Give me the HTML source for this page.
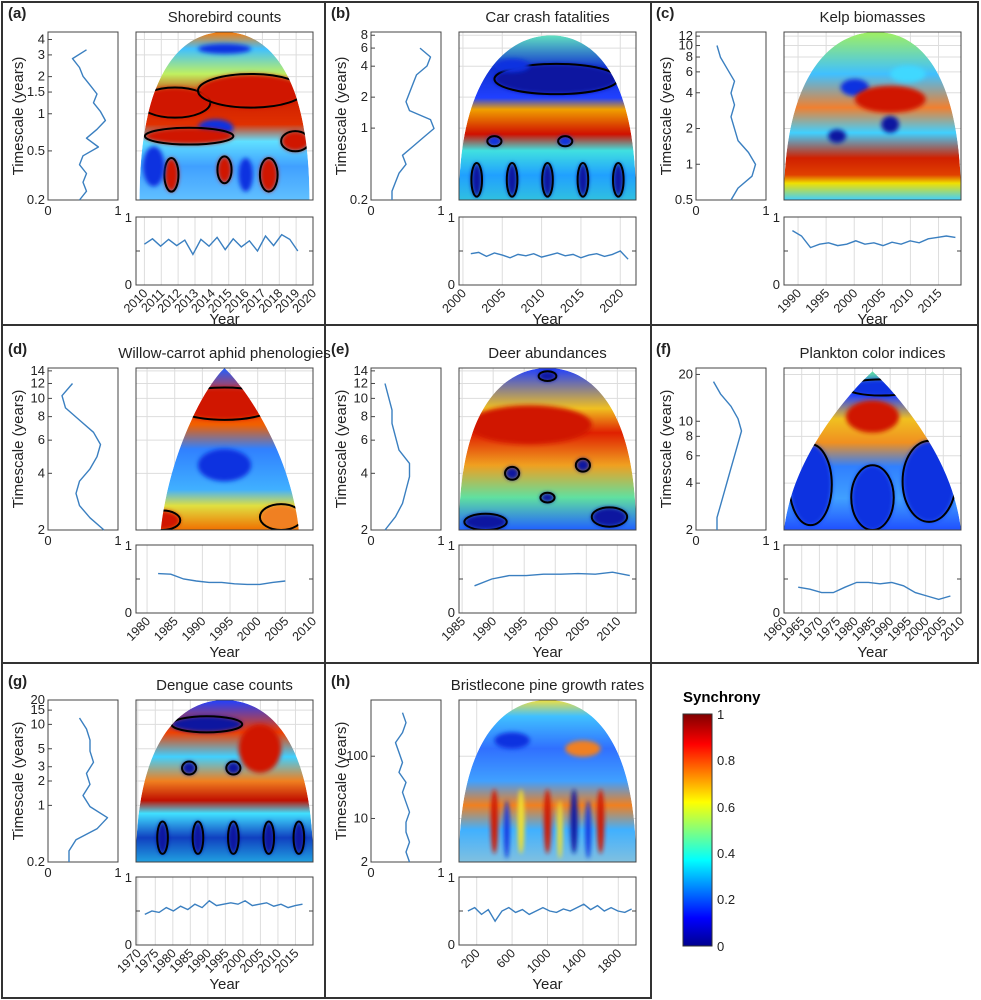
<!DOCTYPE html>
<html><head><meta charset="utf-8"><style>
body{margin:0;background:#fff;}
svg{display:block;font-family:"Liberation Sans",sans-serif;}
</style></head><body>
<svg id="fig" width="981" height="1000" viewBox="0 0 981 1000">
<defs>
<linearGradient id="jet" x1="0" y1="1" x2="0" y2="0">
<stop offset="0" stop-color="#00008f"/><stop offset="0.12" stop-color="#0000ff"/><stop offset="0.37" stop-color="#00ffff"/><stop offset="0.62" stop-color="#ffff00"/><stop offset="0.87" stop-color="#ff0000"/><stop offset="1" stop-color="#800000"/>
</linearGradient>
</defs>
<g id="frame" stroke="#333" stroke-width="2" fill="none">
<path d="M2,2 H978 V663 H651 V998 H2 Z"/><path d="M2,325 H978 M2,663 H651 M325,2 V998 M651,2 V663"/>
</g>
<g id="root"></g>
<g>
<text x="683" y="702" font-size="15" font-weight="bold">Synchrony</text>
<rect x="683" y="714" width="29" height="232" fill="url(#jet)" stroke="#333"/>
<g font-size="13" fill="#222">
<text x="717" y="719">1</text><text x="717" y="765">0.8</text><text x="717" y="812">0.6</text><text x="717" y="858">0.4</text><text x="717" y="904">0.2</text><text x="717" y="951">0</text>
</g></g>
</svg>
<script>
// ---- data arrays ----
const titles=["Shorebird counts","Car crash fatalities","Kelp biomasses","Willow-carrot aphid phenologies","Deer abundances","Plankton color indices","Dengue case counts","Bristlecone pine growth rates"];
const letters=["(a)","(b)","(c)","(d)","(e)","(f)","(g)","(h)"];
const yRange=[[0.2,4.6],[0.2,8.6],[0.5,13],[2,14.5],[2,14.5],[2,22],[0.2,20],[2,800]];
const yTicks=[[0.2,0.5,1,1.5,2,3,4],[0.2,1,2,4,6,8],[0.5,1,2,4,6,8,10,12],[2,4,6,8,10,12,14],[2,4,6,8,10,12,14],[2,4,6,8,10,20],[0.2,1,2,3,5,10,15,20],[2,10,100]];
const profTop=[3.3,6,10,12,12,18,12,500];
const profA=[0.45,0.55,0.5,0.55,0.45,0.5,0.72,0.55,0.7,0.82,0.75,0.65,0.7,0.6,0.5,0.45,0.35,0.55];
const profB=[0.3,0.3,0.35,0.4,0.5,0.45,0.6,0.75,0.9,0.85,0.55,0.5,0.55,0.6,0.65,0.8,0.85,0.7];
const profC=[0.5,0.6,0.8,0.85,0.75,0.6,0.55,0.5,0.55,0.5,0.55,0.45,0.35,0.3];
const profD=[0.8,0.6,0.45,0.4,0.45,0.6,0.7,0.75,0.65,0.45,0.25,0.2,0.35];
const profE=[0.2,0.35,0.45,0.5,0.55,0.55,0.4,0.35,0.3,0.3,0.25,0.2];
const profF=[0.3,0.3,0.35,0.4,0.45,0.5,0.55,0.6,0.65,0.6,0.5,0.35,0.25];
const profG=[0.3,0.3,0.4,0.7,0.85,0.6,0.5,0.6,0.55,0.65,0.6,0.6,0.55,0.45];
const profH=[0.55,0.5,0.55,0.5,0.5,0.55,0.5,0.45,0.5,0.4,0.45,0.4,0.35,0.45,0.5,0.45];
const xDomain=[[2009.5,2020],[1999.5,2022],[1987.5,2019],[1978,2010],[1984.5,2013],[1960,2010],[1969.5,2020],[0,2000]];
const xTicks=[[2010,2011,2012,2013,2014,2015,2016,2017,2018,2019,2020],[2000,2005,2010,2015,2020],[1990,1995,2000,2005,2010,2015],[1980,1985,1990,1995,2000,2005,2010],[1985,1990,1995,2000,2005,2010],[1960,1965,1970,1975,1980,1985,1990,1995,2000,2005,2010],[1970,1975,1980,1985,1990,1995,2000,2005,2010,2015],[200,600,1000,1400,1800]];
const serStart=[2010,2001,1989,1982,1987,1964,1972,100];
const serEnd=[2019.1,2021,2018,2005,2012,2007,2017,1950];
const serA=[0.6,0.68,0.57,0.67,0.58,0.66,0.45,0.67,0.57,0.7,0.52,0.68,0.56,0.65,0.5,0.72,0.58,0.74,0.67,0.5];
const serB=[0.46,0.48,0.42,0.47,0.44,0.4,0.45,0.43,0.46,0.41,0.44,0.47,0.43,0.45,0.4,0.44,0.46,0.42,0.45,0.5,0.38];
const serC=[0.8,0.72,0.55,0.6,0.62,0.58,0.6,0.65,0.6,0.62,0.58,0.63,0.6,0.65,0.62,0.68,0.7,0.72,0.7];
const serD=[0.58,0.57,0.5,0.47,0.45,0.45,0.43,0.42,0.42,0.45,0.47];
const serE=[0.4,0.5,0.55,0.55,0.57,0.57,0.58,0.57,0.6,0.55];
const serF=[0.38,0.35,0.3,0.3,0.38,0.45,0.45,0.43,0.45,0.4,0.3,0.25,0.2,0.25];
const serG=[0.45,0.5,0.48,0.55,0.5,0.57,0.52,0.6,0.55,0.65,0.58,0.6,0.62,0.6,0.65,0.58,0.6,0.62,0.57,0.6,0.55,0.58,0.6];
const serH=[0.5,0.55,0.45,0.52,0.35,0.5,0.55,0.48,0.52,0.45,0.5,0.55,0.5,0.48,0.53,0.5,0.55,0.6,0.52,0.58,0.5,0.55,0.5,0.48,0.53];
const profs=[profA,profB,profC,profD,profE,profF,profG,profH];
const sers=[serA,serB,serC,serD,serE,serF,serG,serH];

// ---- layout/styles ----
const colX=[0,323,648];
const rowG=[{t:32,b:200,bt:217,bb:285,ty:22},{t:368,b:530,bt:545,bb:613,ty:358},{t:700,b:862,bt:877,bb:945,ty:690}];
const RED="#d01800",DRED="#b00c00",BLUE="#1030e0",DBLUE="#0818a0",YEL="#f0e030",CYAN="#40d8ff",ORG="#f08020";
const bands=[
 [[0,"#ff7a00"],[0.1,"#40c0ff"],[0.25,"#c0f060"],[0.4,"#d02000"],[0.55,"#e03000"],[0.65,"#60e0ff"],[0.8,"#40a0ff"],[1,"#60c0ff"]],
 [[0,"#60e0c0"],[0.2,"#1030d0"],[0.38,"#2040ff"],[0.45,"#f0a000"],[0.6,"#d01000"],[0.7,"#40e0e0"],[0.85,"#20a0ff"],[1,"#30c0e0"]],
 [[0,"#a0f060"],[0.25,"#40c0ff"],[0.45,"#f08030"],[0.6,"#40d0ff"],[0.75,"#d02000"],[0.85,"#e04000"],[0.9,"#f0e000"],[1,"#40d0ff"]],
 [[0,"#2060ff"],[0.2,"#ff3000"],[0.35,"#f06000"],[0.5,"#3080ff"],[0.75,"#40b0ff"],[0.85,"#e0e040"],[1,"#f07000"]],
 [[0,"#2040ff"],[0.25,"#f0c020"],[0.4,"#e02000"],[0.6,"#f0a020"],[0.8,"#60e0a0"],[1,"#2060ff"]],
 [[0,"#60e0a0"],[0.15,"#2040ff"],[0.3,"#f0c020"],[0.45,"#f09020"],[0.6,"#3080ff"],[0.8,"#40a0ff"],[1,"#2050ff"]],
 [[0,"#2040ff"],[0.2,"#f04000"],[0.35,"#40d0ff"],[0.5,"#f08020"],[0.62,"#c01000"],[0.7,"#40e0ff"],[0.85,"#1040c0"],[1,"#20a0e0"]],
 [[0,"#f0e040"],[0.1,"#40c0ff"],[0.3,"#3070ff"],[0.5,"#40a0ff"],[0.65,"#f08020"],[0.8,"#40b0ff"],[1,"#80c0e0"]]
];
const blobs=[
 [[0.5,0.1,0.15,0.03,BLUE,0],[0.22,0.42,0.2,0.09,RED,1],[0.65,0.35,0.3,0.1,RED,1],[0.45,0.57,0.1,0.05,BLUE,0],[0.3,0.62,0.25,0.05,RED,1],[0.9,0.65,0.08,0.06,RED,1],[0.2,0.85,0.04,0.1,RED,1],[0.5,0.82,0.04,0.08,RED,1],[0.75,0.85,0.05,0.1,RED,1],[0.1,0.8,0.06,0.12,BLUE,0],[0.62,0.85,0.04,0.1,BLUE,0]],
 [[0.55,0.28,0.35,0.09,DBLUE,1],[0.3,0.2,0.1,0.04,BLUE,0],[0.2,0.65,0.04,0.03,BLUE,1],[0.6,0.65,0.04,0.03,BLUE,1],[0.1,0.88,0.03,0.1,DBLUE,1],[0.3,0.88,0.03,0.1,DBLUE,1],[0.5,0.88,0.03,0.1,DBLUE,1],[0.7,0.88,0.03,0.1,DBLUE,1],[0.9,0.88,0.03,0.1,DBLUE,1]],
 [[0.3,0.62,0.05,0.04,DBLUE,0],[0.6,0.55,0.05,0.05,DBLUE,0],[0.4,0.33,0.08,0.05,BLUE,0],[0.6,0.4,0.2,0.08,RED,0],[0.7,0.25,0.1,0.05,CYAN,0]],
 [[0.5,0.22,0.3,0.1,RED,1],[0.82,0.92,0.12,0.08,ORG,1],[0.15,0.94,0.1,0.06,RED,1],[0.5,0.6,0.15,0.1,BLUE,0]],
 [[0.4,0.35,0.35,0.12,RED,0],[0.3,0.65,0.04,0.04,DBLUE,1],[0.7,0.6,0.04,0.04,DBLUE,1],[0.5,0.8,0.04,0.03,DBLUE,1],[0.15,0.95,0.12,0.05,DBLUE,1],[0.85,0.92,0.1,0.06,DBLUE,1],[0.5,0.05,0.05,0.03,DBLUE,1]],
 [[0.15,0.72,0.12,0.25,BLUE,1],[0.82,0.7,0.15,0.25,BLUE,1],[0.5,0.3,0.15,0.1,RED,0],[0.5,0.8,0.12,0.2,BLUE,1],[0.55,0.12,0.2,0.05,BLUE,1]],
 [[0.7,0.3,0.12,0.15,RED,0],[0.4,0.15,0.2,0.05,DBLUE,1],[0.3,0.42,0.04,0.04,DBLUE,1],[0.55,0.42,0.04,0.04,DBLUE,1],[0.15,0.85,0.03,0.1,DBLUE,1],[0.35,0.85,0.03,0.1,DBLUE,1],[0.55,0.85,0.03,0.1,DBLUE,1],[0.75,0.85,0.03,0.1,DBLUE,1],[0.92,0.85,0.03,0.1,DBLUE,1]],
 [[0.3,0.25,0.1,0.05,BLUE,0],[0.7,0.3,0.1,0.05,ORG,0],[0.2,0.75,0.02,0.2,RED,0],[0.35,0.75,0.02,0.2,YEL,0],[0.5,0.75,0.02,0.2,RED,0],[0.65,0.75,0.02,0.2,DBLUE,0],[0.8,0.75,0.02,0.2,RED,0],[0.27,0.8,0.015,0.18,BLUE,0],[0.57,0.8,0.015,0.18,YEL,0],[0.73,0.8,0.015,0.18,BLUE,0]]
];
const domeShape=["q","q","q","t","q","t","q","q"];
const domeTop=[[0.5,0],[0.52,0.02],[0.52,0],[0.5,0],[0.5,0],[0.5,0.02],[0.5,0],[0.5,0]];
const domeX=[[0.02,0.98],[0,1],[0,1],[0.14,0.92],[0,1],[0,1],[0,1],[0,1]];

const NS="http://www.w3.org/2000/svg";
const root=document.getElementById('root');
const defs=document.querySelector('defs');
function mk(tag,attrs,parent){const e=document.createElementNS(NS,tag);for(const k in attrs)e.setAttribute(k,attrs[k]);(parent||root).appendChild(e);return e;}
function txt(x,y,s,size,anchor,parent,extra){const t=mk('text',Object.assign({x:x,y:y,'font-size':size,'text-anchor':anchor||'start',fill:'#222'},extra||{}),parent);t.textContent=s;return t;}

for(let p=0;p<8;p++){
 const ox=colX[p%3], R=rowG[Math.floor(p/3)];
 const g=mk('g',{});
 
 
 const lx0=ox+48,lx1=ox+118,hx0=ox+136,hx1=ox+313;
 const [ymin,ymax]=yRange[p];
 const ys=v=>R.b-(Math.log(v)-Math.log(ymin))/(Math.log(ymax)-Math.log(ymin))*(R.b-R.t);
 const l=txt(ox+8,R.ty-4,letters[p],15,'start',g,{'font-weight':'bold'});
 
 const tt=txt((hx0+hx1)/2,R.ty,titles[p],15,'middle',g);
 
 const lp=mk('g',{},g);
 
 mk('rect',{x:lx0,y:R.t,width:lx1-lx0,height:R.b-R.t,fill:'#fff',stroke:'#444'},lp);
 yTicks[p].forEach(v=>{const y=ys(v);
  mk('line',{x1:lx0,x2:lx0+4,y1:y,y2:y,stroke:'#444'},lp);
  mk('line',{x1:hx0,x2:hx1,y1:y,y2:y,stroke:'#ddd'},g);
  txt(lx0-3,y+4,String(v),13,'end',lp);});
 txt(lx0,R.b+15,'0',13,'middle',lp);txt(lx1,R.b+15,'1',13,'middle',lp);
 const yt=txt(0,0,'Timescale (years)',15,'middle',lp,{transform:`translate(${ox+23},${(R.t+R.b)/2}) rotate(-90)`});
 
 const pr=profs[p], top=profTop[p];
 let d='';pr.forEach((v,i)=>{const sv=Math.exp(Math.log(ymin)+(Math.log(top)-Math.log(ymin))*i/(pr.length-1));
  d+=(i?'L':'M')+(lx0+v*(lx1-lx0)).toFixed(1)+','+ys(sv).toFixed(1);});
 const pl=mk('path',{d:d,fill:'none',stroke:'#3a7fc0','stroke-width':1.4,'stroke-linejoin':'round'},lp);
 
 const [xd0,xd1]=xDomain[p];
 const xs=v=>hx0+(v-xd0)/(xd1-xd0)*(hx1-hx0);
 xTicks[p].forEach(v=>{mk('line',{x1:xs(v),x2:xs(v),y1:R.t,y2:R.b,stroke:'#ddd'},g);mk('line',{x1:xs(v),x2:xs(v),y1:R.bt,y2:R.bb,stroke:'#ddd'},g);});
 const gid='band'+p;
 const lg=mk('linearGradient',{id:gid,x1:0,y1:0,x2:0,y2:1},defs);
 bands[p].forEach(s=>mk('stop',{offset:s[0],'stop-color':s[1]},lg));
 const W=hx1-hx0,H=R.b-R.t;
 const dx0=hx0+domeX[p][0]*W,dx1=hx0+domeX[p][1]*W,ax=hx0+domeTop[p][0]*W,ay=R.t+domeTop[p][1]*H;
 let dd;
 if(domeShape[p]=='q') dd=`M${dx0},${R.b} C${dx0},${ay+H*0.25} ${ax-W*0.25},${ay} ${ax},${ay} C${ax+W*0.25},${ay} ${dx1},${ay+H*0.25} ${dx1},${R.b} Z`;
 else dd=`M${dx0},${R.b} C${dx0+W*0.05},${ay+H*0.5} ${ax-W*0.1},${ay+H*0.1} ${ax},${ay} C${ax+W*0.1},${ay+H*0.1} ${dx1-W*0.05},${ay+H*0.5} ${dx1},${R.b} Z`;
 const cp=mk('clipPath',{id:'clip'+p},defs);mk('path',{d:dd},cp);
 const hg=mk('g',{'clip-path':`url(#clip${p})`},g);
 
 mk('path',{d:dd,fill:`url(#${gid})`},hg);
 const bf=mk('filter',{id:'blur'+p,x:'-50%',y:'-50%',width:'200%',height:'200%'},defs);
 mk('feGaussianBlur',{stdDeviation:2},bf);
 blobs[p].forEach(b=>{
  mk('ellipse',{cx:hx0+b[0]*W,cy:R.t+b[1]*H,rx:b[2]*W,ry:b[3]*H,fill:b[4],filter:`url(#blur${p})`},hg);
  if(b[5]) mk('ellipse',{cx:hx0+b[0]*W,cy:R.t+b[1]*H,rx:b[2]*W,ry:b[3]*H,fill:'none',stroke:'#000','stroke-width':2},hg);
 });
 mk('rect',{x:hx0,y:R.t,width:W,height:H,fill:'none',stroke:'#444'},g);
 const bp=mk('g',{},g);
 
 const bs=v=>R.bb-v*(R.bb-R.bt);
 mk('rect',{x:hx0,y:R.bt,width:W,height:R.bb-R.bt,fill:'none',stroke:'#444'},bp);
 txt(hx0-4,R.bt+5,'1',13,'end',bp);txt(hx0-4,R.bb+4,'0',13,'end',bp);
 mk('line',{x1:hx0,x2:hx0+4,y1:bs(0.5),y2:bs(0.5),stroke:'#444'},bp);
 mk('line',{x1:hx1-4,x2:hx1,y1:bs(0.5),y2:bs(0.5),stroke:'#444'},bp);
 xTicks[p].forEach(v=>{txt(0,0,String(v),12.5,'end',bp,{transform:`translate(${xs(v)+4},${R.bb+9}) rotate(-45)`});});
 const xt=txt((hx0+hx1)/2,R.bb+(p<3?39:44),'Year',15,'middle',bp);
 
 const se=sers[p];let sd='';
 se.forEach((v,i)=>{const yr=serStart[p]+(serEnd[p]-serStart[p])*i/(se.length-1);sd+=(i?'L':'M')+xs(yr).toFixed(1)+','+bs(v).toFixed(1);});
 const sl=mk('path',{d:sd,fill:'none',stroke:'#3a7fc0','stroke-width':1.4},bp);
 
}
</script>
</body></html>
